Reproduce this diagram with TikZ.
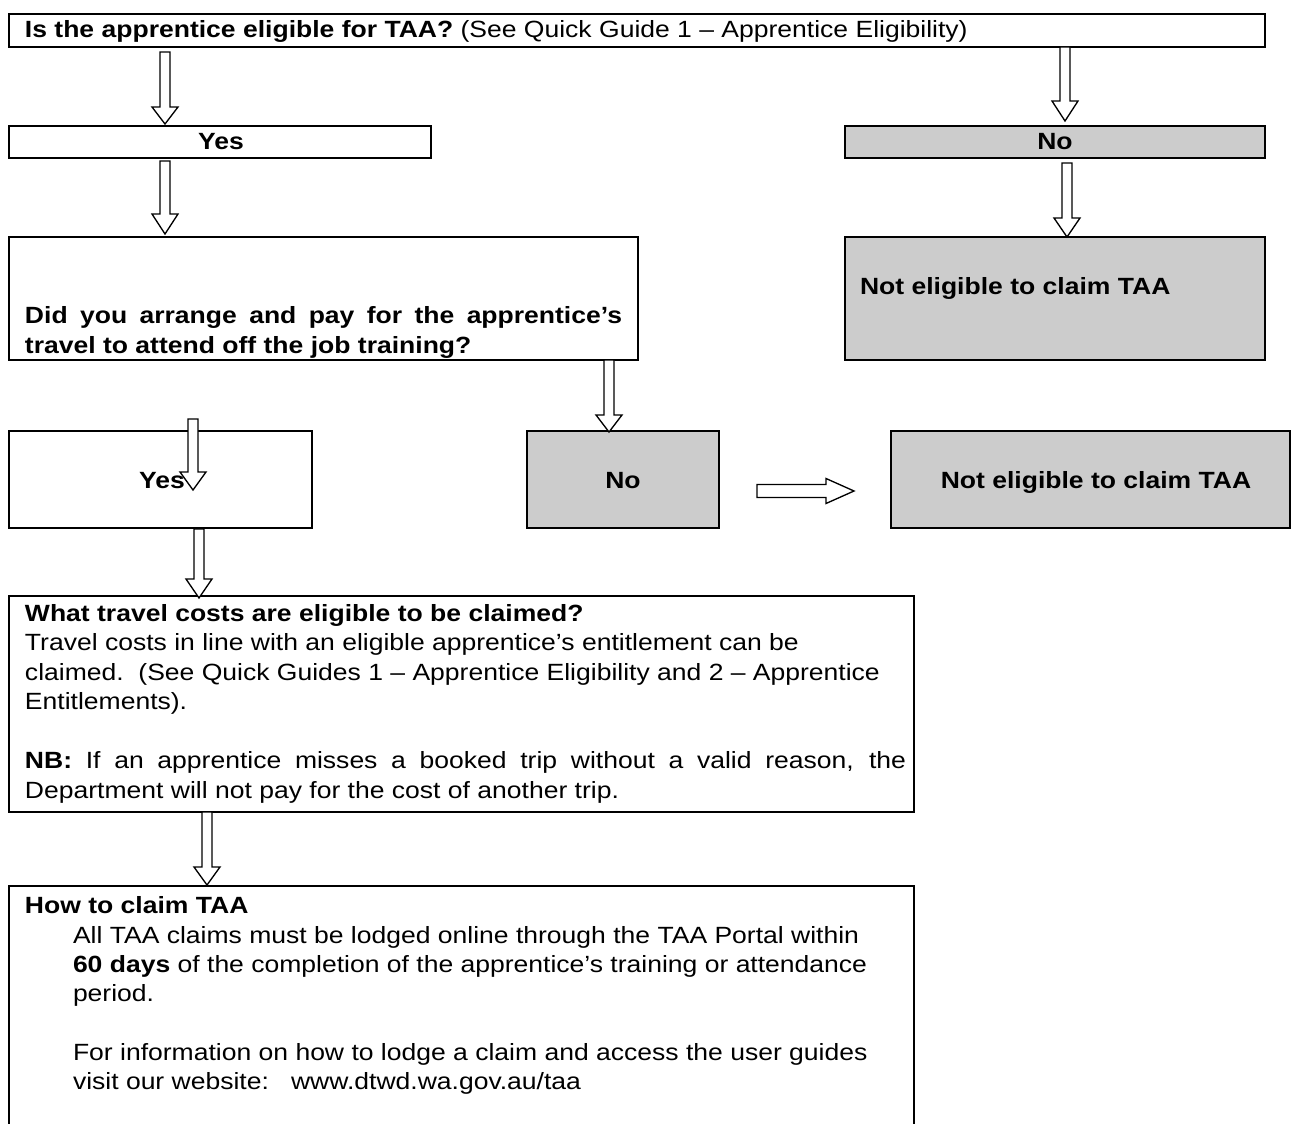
\documentclass[tikz,border=0pt]{standalone}
\usepackage{fontspec}
\setmainfont{Liberation Sans}[FakeStretch=1.13]
\usetikzlibrary{calc}
\newlength\px \setlength\px{0.75pt}
\definecolor{gr}{HTML}{CCCCCC}
% box node from (x1,y1) to (x2,y2) in px
\newcommand\bx[6]{\node[#1,minimum width={(#5-#3)*0.75pt},minimum height={(#6-#4)*0.75pt}] (#2) at ({(#3+#5)/2},{(#4+#6)/2}) {};}
% vertical block arrow: from node, to node, x coordinate name, gap below start, gap above end, head length (px)
\newcommand\blockv[6]{%
 \draw[arr] let \p1=(#1.south -| #3), \p2=(#2.north -| #3) in
 ({\x1-3.75pt},{\y1-(#4)*0.75pt}) -- ({\x1+3.75pt},{\y1-(#4)*0.75pt})
 -- ({\x1+3.75pt},{\y2+(#5)*0.75pt+(#6)*0.75pt}) -- ({\x1+9.75pt},{\y2+(#5)*0.75pt+(#6)*0.75pt})
 -- ({\x1},{\y2+(#5)*0.75pt}) -- ({\x1-9.75pt},{\y2+(#5)*0.75pt+(#6)*0.75pt})
 -- ({\x1-3.75pt},{\y2+(#5)*0.75pt+(#6)*0.75pt}) -- cycle;}
% horizontal block arrow: from node, to node, y coordinate name, gaps, head length (px)
\newcommand\blockh[6]{%
 \draw[arr] let \p1=(#1.east |- #3), \p2=(#2.west |- #3) in
 ({\x1+(#4)*0.75pt},{\y1+4.875pt}) -- ({\x2-(#5)*0.75pt-(#6)*0.75pt},{\y1+4.875pt})
 -- ({\x2-(#5)*0.75pt-(#6)*0.75pt},{\y1+9.375pt}) -- ({\x2-(#5)*0.75pt},{\y1})
 -- ({\x2-(#5)*0.75pt-(#6)*0.75pt},{\y1-9.375pt}) -- ({\x2-(#5)*0.75pt-(#6)*0.75pt},{\y1-4.875pt})
 -- ({\x1+(#4)*0.75pt},{\y1-4.875pt}) -- cycle;}
\begin{document}
\begin{tikzpicture}[x=0.75pt,y=-0.75pt,
  box/.style={draw=black,line width=1.5pt,fill=white,inner sep=0pt,outer sep=0pt},
  gbox/.style={box,fill=gr},
  open/.style={inner sep=0pt,outer sep=0pt},
  arr/.style={draw=black,line width=1pt,fill=white,line join=miter},
  txt/.style={inner sep=0pt,outer sep=0pt,font=\fontsize{17.6}{22}\selectfont},
  lt/.style={txt,anchor=base west},
  ct/.style={txt,anchor=base,font=\fontsize{17.6}{22}\selectfont\bfseries}]
\useasboundingbox[fill=white] (0,0) rectangle (1293,1124);
% boxes
\bx{box}{top}{9}{14}{1265}{47}
\bx{box}{yes1}{9}{126}{431}{158}
\bx{gbox}{no1}{845}{126}{1265}{158}
\bx{box}{did}{9}{237}{638}{360}
\bx{gbox}{ne1}{845}{237}{1265}{360}
\bx{box}{yes2}{9}{431}{312}{528}
\bx{gbox}{no2}{527}{431}{719}{528}
\bx{gbox}{ne2}{891}{431}{1290}{528}
\bx{box}{what}{9}{596}{914}{812}
\bx{open}{how}{9}{886}{914}{1140}
\draw[line width=1.5pt] (how.south west) |- (how.north east) -- (how.south east);
% texts
\node[lt] (t1) at (25,38) {\textbf{Is the apprentice eligible for TAA?} (See Quick Guide 1 -- Apprentice Eligibility)};
\node[ct] (t2) at (221,150) {Yes};
\node[ct] (t3) at (1055,150) {No};
\node[lt] (t4) at (25,323) {\makebox[597\px][s]{\bfseries Did you arrange and pay for the apprentice’s}};
\node[lt] (t5) at (25,353) {\bfseries travel to attend off the job training?};
\node[lt] (t6) at (860,294) {\bfseries Not eligible to claim TAA};
\node[ct] (t7) at (162,488) {Yes};
\node[ct] (t8) at (623,488) {No};
\node[ct] (t9) at (1096,488) {Not eligible to claim TAA};
\node[lt] (w1) at (25,621) {\bfseries What travel costs are eligible to be claimed?};
\node[lt] (w2) at (25,650) {Travel costs in line with an eligible apprentice’s entitlement can be};
\node[lt] (w3) at (25,680) {claimed.\ \ (See Quick Guides 1 -- Apprentice Eligibility and 2 -- Apprentice};
\node[lt] (w4) at (25,709) {Entitlements).};
\node[lt] (w5) at (25,768) {\makebox[881\px][s]{\textbf{NB:} If an apprentice misses a booked trip without a valid reason, the}};
\node[lt] (w6) at (25,798) {Department will not pay for the cost of another trip.};
\node[lt] (h1) at (25,913) {\bfseries How to claim TAA};
\node[lt] (h2) at (73,943) {All TAA claims must be lodged online through the TAA Portal within};
\node[lt] (h3) at (73,972) {\textbf{60 days} of the completion of the apprentice’s training or attendance};
\node[lt] (h4) at (73,1001) {period.};
\node[lt] (h5) at (73,1060) {For information on how to lodge a claim and access the user guides};
\node[lt] (h6) at (73,1089) {visit our website:\ \ \ www.dtwd.wa.gov.au/taa};
% arrow axes
\coordinate (xa) at (165,0);
\coordinate (xb) at (1065,0);
\coordinate (xc) at (1067,0);
\coordinate (xd) at (609,0);
\coordinate (xe) at (193,0);
\coordinate (xf) at (199,0);
\coordinate (xg) at (207,0);
\coordinate (yh) at (0,491);
% arrows
\blockv{top}{yes1}{xa}{5}{2}{17}
\blockv{top}{no1}{xb}{0}{5}{20}
\blockv{yes1}{did}{xa}{3}{3}{20}
\blockv{no1}{ne1}{xc}{5}{0}{19}
\blockv{did}{no2}{xd}{0}{-1}{17}
\blockv{did}{yes2}{xe}{59}{-59}{18}
\blockv{yes2}{what}{xf}{1}{-2}{19}
\blockv{what}{how}{xg}{0}{1}{18}
\blockh{no2}{ne2}{yh}{38}{37}{28}
\end{tikzpicture}
\end{document}
